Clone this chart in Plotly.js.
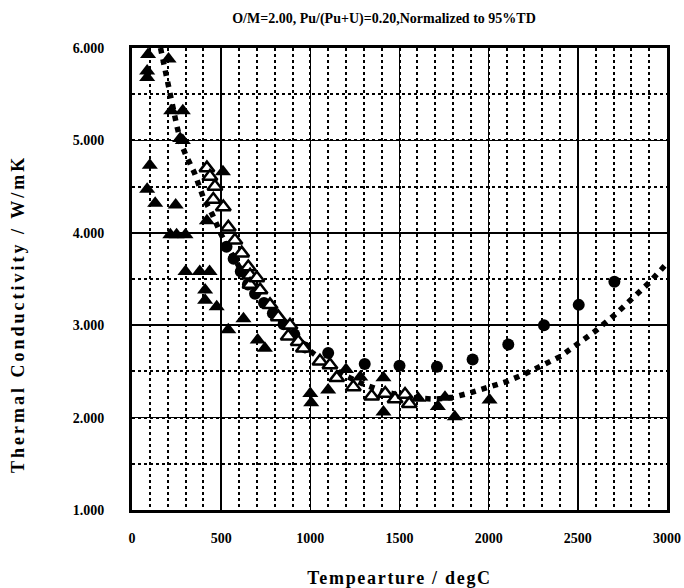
<!DOCTYPE html>
<html>
<head>
<meta charset="utf-8">
<script src="https://cdn.plot.ly/plotly-3.0.1.min.js"></script>
<style>
html,body{margin:0;padding:0;background:#fff;}
#chart{width:684px;height:588px;}
.xtitle{letter-spacing:1.7px;}
.annotation-text{letter-spacing:3px;}
</style>
</head>
<body>
<div id="chart"></div>
<script>
// Filled triangles
const triFilledT = [90, 85, 85, 205, 220, 285, 270, 285, 100, 85, 130, 245, 215, 250, 300, 420, 510, 300, 380, 435, 410, 410, 475, 540, 625, 705, 745, 1000, 1005, 1100, 1200, 1280, 1410, 1410, 1605, 1715, 1755, 1810, 2005];
const triFilledK = [5.93, 5.75, 5.68, 5.88, 5.32, 5.32, 5.02, 5.00, 4.73, 4.47, 4.32, 4.30, 3.98, 3.98, 3.98, 4.13, 4.66, 3.58, 3.58, 3.58, 3.38, 3.27, 3.20, 2.95, 3.07, 2.84, 2.75, 2.26, 2.16, 2.30, 2.52, 2.44, 2.43, 2.06, 2.21, 2.12, 2.22, 2.01, 2.19];
// Open triangles
const triOpenT = [420, 437, 465, 456, 512, 540, 577, 615, 652, 662, 662, 700, 718, 774, 820, 886, 876, 932, 961, 1054, 1110, 1148, 1241, 1344, 1420, 1475, 1531, 1555];
const triOpenK = [4.70, 4.61, 4.50, 4.36, 4.28, 4.06, 3.92, 3.78, 3.63, 3.54, 3.44, 3.51, 3.38, 3.22, 3.09, 3.00, 2.88, 2.82, 2.75, 2.61, 2.57, 2.43, 2.33, 2.23, 2.26, 2.20, 2.25, 2.15];
// Filled circles
const circT = [530, 570, 610, 650, 690, 740, 790, 850, 910, 970, 1100, 1305, 1500, 1710, 1910, 2110, 2310, 2505, 2705];
const circK = [3.85, 3.72, 3.58, 3.44, 3.34, 3.24, 3.13, 3.01, 2.90, 2.76, 2.70, 2.58, 2.56, 2.55, 2.63, 2.79, 3.00, 3.22, 3.47];
// Fitted curve
const fitT = [160, 180, 200, 225, 250, 275, 300, 350, 400, 450, 500, 550, 600, 650, 700, 750, 800, 900, 1000, 1100, 1200, 1300, 1400, 1500, 1600, 1700, 1800, 1900, 2000, 2100, 2200, 2300, 2400, 2500, 2600, 2700, 2800, 2900, 3000];
const fitK = [6.00, 5.80, 5.62, 5.42, 5.17, 4.97, 4.85, 4.65, 4.38, 4.20, 3.98, 3.80, 3.62, 3.47, 3.36, 3.23, 3.12, 2.93, 2.72, 2.57, 2.45, 2.36, 2.29, 2.24, 2.21, 2.20, 2.22, 2.27, 2.33, 2.39, 2.47, 2.57, 2.66, 2.80, 2.94, 3.10, 3.27, 3.46, 3.67];
const xTicks = [0, 500, 1000, 1500, 2000, 2500, 3000];
const yTicks = [1, 2, 3, 4, 5, 6];

const serif = {family: 'Liberation Serif', color: '#000'};
const W = 684, H = 588, L = 132, R = 17, T = 48, B = 78;

const traces = [
  {x: fitT, y: fitK, mode: 'lines', line: {color: '#000', width: 5.5, dash: '5.5px,6px'}, hoverinfo: 'skip'},
  {x: circT, y: circK, mode: 'markers', marker: {symbol: 'circle', size: 12, color: '#000'}},
  {x: triFilledT, y: triFilledK, mode: 'markers', marker: {symbol: 'triangle-up', size: 14, color: '#000'}},
  {x: triOpenT, y: triOpenK, mode: 'markers', marker: {symbol: 'triangle-up', size: 13, color: '#fff', line: {color: '#000', width: 2.5}}}
];

const plotW = W - L - R, plotH = H - T - B;

const layout = {
  width: W, height: H,
  margin: {l: L, r: R, t: T, b: B},
  paper_bgcolor: '#fff', plot_bgcolor: '#fff',
  showlegend: false,
  title: {text: 'O/M=2.00, Pu/(Pu+U)=0.20,Normalized to 95%TD', x: (384 - L) / plotW, xref: 'paper', xanchor: 'center', y: 1 - 18 / H, yanchor: 'middle',
          font: Object.assign({size: 14, weight: 'bold'}, serif)},
  annotations: [{
    text: 'Thermal Conductivity / W/mK', textangle: -90, showarrow: false,
    xref: 'paper', yref: 'paper', x: (18 - L) / plotW, y: (H - B - 314) / plotH,
    xanchor: 'center', yanchor: 'middle',
    font: Object.assign({size: 18, weight: 'bold'}, serif)
  }],
  xaxis: {
    range: [0, 3000], tickvals: xTicks, ticks: '', ticklabelstandoff: 13,
    tickfont: Object.assign({size: 14, weight: 'bold'}, serif),
    showgrid: true, gridcolor: '#000', gridwidth: 1.5,
    minor: {dtick: 100, showgrid: true, gridcolor: '#000', griddash: 'dot', gridwidth: 2},
    showline: true, linecolor: '#000', linewidth: 3, mirror: true, zeroline: false,
    title: {text: 'Tempearture / degC', standoff: 32, font: Object.assign({size: 18, weight: 'bold'}, serif)}
  },
  yaxis: {
    range: [1, 6], tickvals: yTicks, tickformat: '.3f', ticks: '', ticklabelstandoff: 22,
    tickfont: Object.assign({size: 14, weight: 'bold'}, serif),
    showgrid: true, gridcolor: '#000', gridwidth: 1.5,
    minor: {dtick: 0.5, showgrid: true, gridcolor: '#000', griddash: 'dot', gridwidth: 2},
    showline: true, linecolor: '#000', linewidth: 3, mirror: true, zeroline: false
  }
};

Plotly.newPlot('chart', traces, layout, {displayModeBar: false, staticPlot: true});
</script>
</body>
</html>
